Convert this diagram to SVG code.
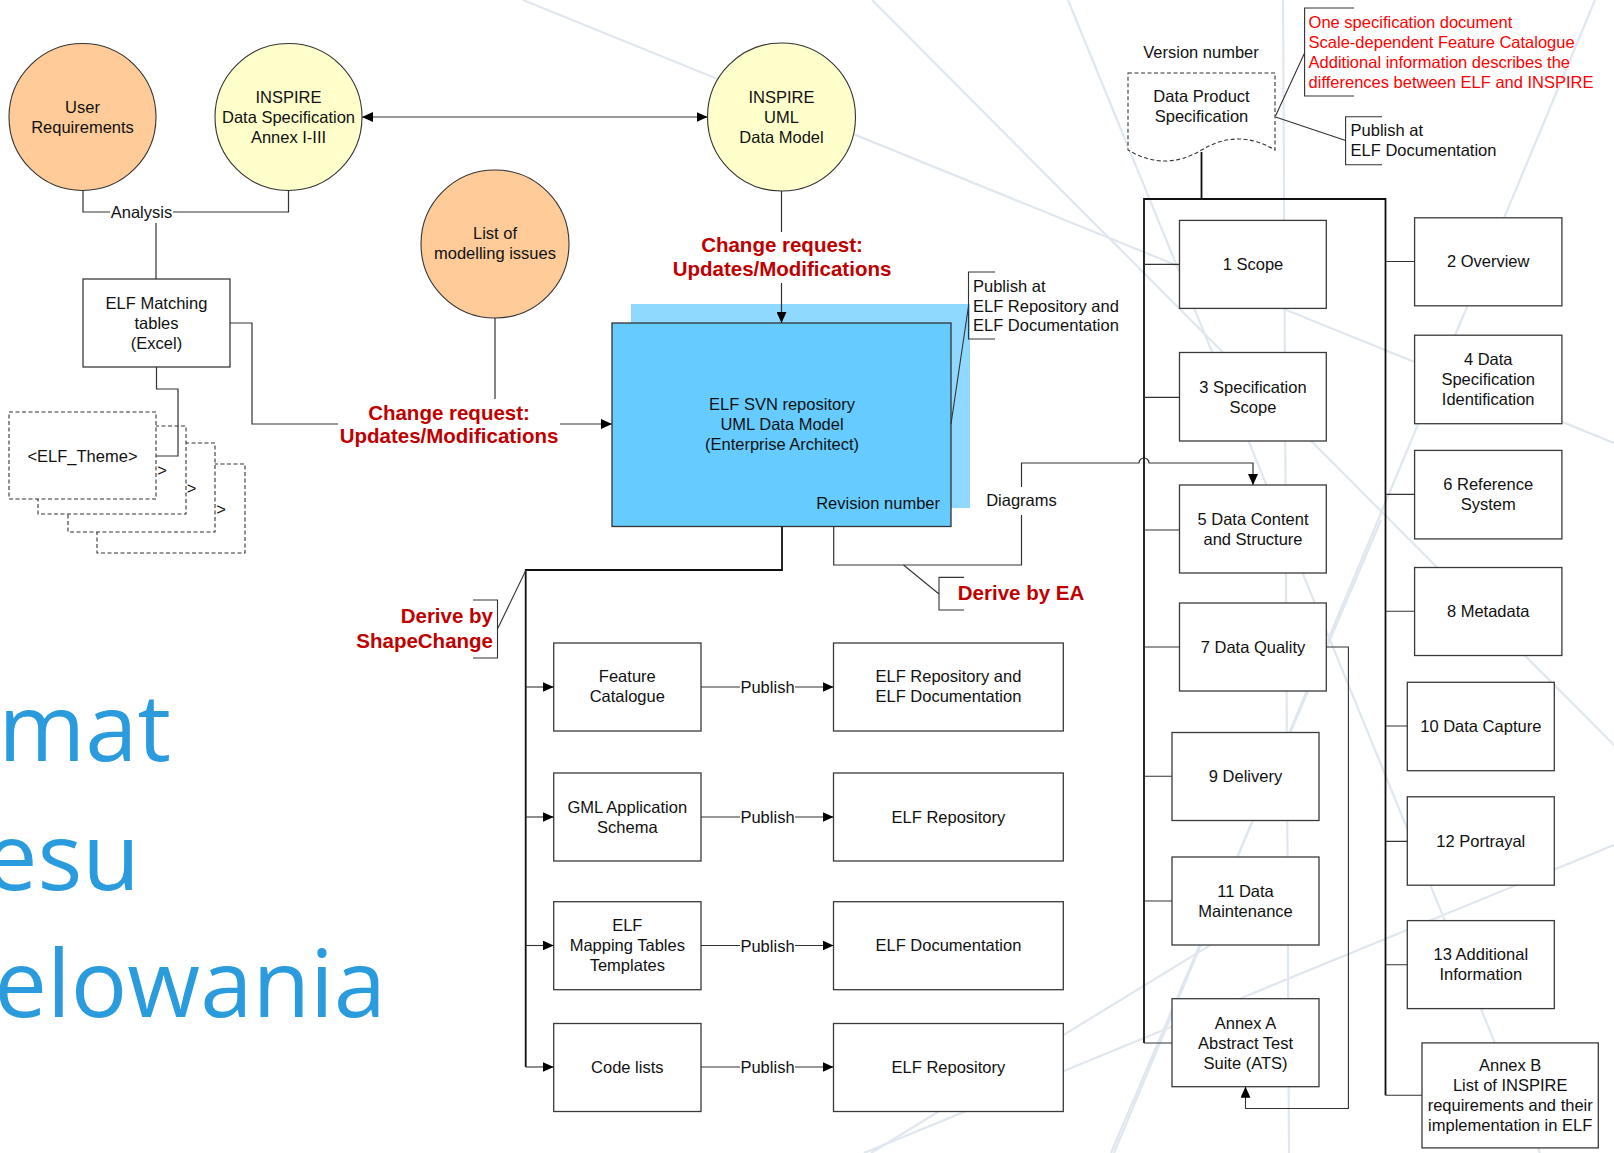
<svg xmlns="http://www.w3.org/2000/svg" width="1614" height="1153" viewBox="0 0 1614 1153">
<defs>
<style>
.t{font-family:"Liberation Sans",Arial,sans-serif;font-size:16.5px;fill:#111;text-anchor:middle}
.red{font-family:"Liberation Sans",Arial,sans-serif;font-weight:bold;font-size:20.5px;fill:#C00000;text-anchor:middle}
.l{text-anchor:start}
.e{text-anchor:end}
.note{font-family:"Liberation Sans",Arial,sans-serif;font-size:16.5px;fill:#FF0000}
.box{fill:#fff;stroke:#3a3a3a;stroke-width:1.3}
.dash{fill:#fff;stroke:#333;stroke-width:1.1;stroke-dasharray:4 2.5}
.c{fill:none;stroke:#333;stroke-width:1.2}
.trunk{fill:none;stroke:#111;stroke-width:1.8}
.br{fill:none;stroke:#333;stroke-width:1.1}
.big{font-family:"Open Sans",sans-serif;font-size:94px;fill:#2A9BDC;text-anchor:end}
</style>
<marker id="arr" viewBox="0 0 11 10" refX="11" refY="5" markerWidth="11" markerHeight="10" markerUnits="userSpaceOnUse" orient="auto-start-reverse"><path d="M0,0 L11,5 L0,10 z" fill="#000"/></marker>
</defs>
<rect width="1614" height="1153" fill="#fff"/>
<g id="background" stroke="#E0E7EE" stroke-width="2.2" fill="none">
<line x1="523" y1="0" x2="1614" y2="443"/>
<line x1="872" y1="0" x2="1614" y2="745"/>
<line x1="1595" y1="0" x2="1114" y2="1153"/>
<line x1="1068" y1="0" x2="1540" y2="1153"/>
<line x1="1283" y1="0" x2="1289" y2="1153"/>
<line x1="1614" y1="845" x2="864" y2="1153"/>
<line x1="1111" y1="1153" x2="1381" y2="520"/>
<line x1="871" y1="1153" x2="1300" y2="890"/>
</g>
<g id="slide-text">
<text class="big" x="171" y="761">mat</text>
<text class="big" x="140" y="890">esu</text>
<text class="big" x="386" y="1017">elowania</text>
</g>

<g id="n-userreq"><circle cx="82.5" cy="117" r="73.5" fill="#FFCC99" stroke="#333" stroke-width="1.1"/>
<text class="t" x="82.5" y="113">User</text><text class="t" x="82.5" y="133">Requirements</text></g>
<g id="n-inspire-ds"><circle cx="288.5" cy="117" r="73.5" fill="#FFFFCC" stroke="#333" stroke-width="1.1"/>
<text class="t" x="288.5" y="103">INSPIRE</text><text class="t" x="288.5" y="123">Data Specification</text><text class="t" x="288.5" y="143">Annex I-III</text></g>
<g id="n-inspire-uml"><circle cx="781.5" cy="117" r="74" fill="#FFFFCC" stroke="#333" stroke-width="1.1"/>
<text class="t" x="781.5" y="103">INSPIRE</text><text class="t" x="781.5" y="123">UML</text><text class="t" x="781.5" y="143">Data Model</text></g>
<g id="n-issues"><circle cx="495" cy="244" r="74" fill="#FFCC99" stroke="#333" stroke-width="1.1"/>
<text class="t" x="495" y="239">List of</text><text class="t" x="495" y="259">modelling issues</text></g>
<g id="n-matching"><rect class="box" x="83" y="279" width="147" height="88"/>
<text class="t" x="156.5" y="309">ELF Matching</text><text class="t" x="156.5" y="329">tables</text><text class="t" x="156.5" y="349">(Excel)</text></g>
<g id="n-themes">
<rect class="dash" x="97" y="464" width="148" height="89"/>
<text class="t e" x="226" y="514.5">&gt;</text>
<rect class="dash" x="68" y="443" width="147" height="89"/>
<text class="t e" x="196.5" y="493.5">&gt;</text>
<rect class="dash" x="38" y="426" width="148" height="88"/>
<text class="t e" x="167" y="476">&gt;</text>
<rect class="dash" x="9" y="412" width="147" height="87"/>
<text class="t" x="82.5" y="462">&lt;ELF_Theme&gt;</text>
</g>
<g id="n-svn">
<rect x="631" y="304" width="339" height="204" fill="#8FD8FF"/>
<rect x="612" y="323" width="339" height="203.5" fill="#66CCFF" stroke="#333" stroke-width="1.3"/>
<text class="t" x="782" y="410">ELF SVN repository</text><text class="t" x="782" y="430">UML Data Model</text><text class="t" x="782" y="450">(Enterprise Architect)</text>
<text class="t e" x="940" y="509">Revision number</text>
</g>
<g id="n-fc"><rect class="box" x="553.7" y="643" width="147.3" height="88"/><text class="t" x="627.3" y="682">Feature</text><text class="t" x="627.3" y="702">Catalogue</text></g>
<g id="n-gml"><rect class="box" x="553.7" y="773" width="147.3" height="88"/><text class="t" x="627.3" y="812.5">GML Application</text><text class="t" x="627.3" y="832.5">Schema</text></g>
<g id="n-map"><rect class="box" x="553.7" y="901.7" width="147.3" height="88"/><text class="t" x="627.3" y="931">ELF</text><text class="t" x="627.3" y="951">Mapping Tables</text><text class="t" x="627.3" y="971">Templates</text></g>
<g id="n-code"><rect class="box" x="553.7" y="1023.5" width="147.3" height="88"/><text class="t" x="627.3" y="1073">Code lists</text></g>
<g id="n-pub1"><rect class="box" x="833.5" y="643" width="229.8" height="88"/><text class="t" x="948.4" y="682">ELF Repository and</text><text class="t" x="948.4" y="702">ELF Documentation</text></g>
<g id="n-pub2"><rect class="box" x="833.5" y="773" width="229.8" height="88"/><text class="t" x="948.4" y="823">ELF Repository</text></g>
<g id="n-pub3"><rect class="box" x="833.5" y="901.7" width="229.8" height="88"/><text class="t" x="948.4" y="951">ELF Documentation</text></g>
<g id="n-pub4"><rect class="box" x="833.5" y="1023.5" width="229.8" height="88"/><text class="t" x="948.4" y="1073">ELF Repository</text></g>

<g id="n-dps">
<path d="M1128,73 H1275 V150 Q1238,128 1201.5,150 Q1165,172 1128,150 Z" fill="#fff" stroke="#333" stroke-width="1.1" stroke-dasharray="4 2.5"/>
<text class="t" x="1201.5" y="101.6">Data Product</text><text class="t" x="1201.5" y="121.6">Specification</text>
<text class="t" x="1201" y="58">Version number</text>
</g>
<g id="n-s1"><rect class="box" x="1179.5" y="220.4" width="146.8" height="88"/><text class="t" x="1253" y="270">1 Scope</text></g>
<g id="n-s3"><rect class="box" x="1179.5" y="352.5" width="146.8" height="88.5"/><text class="t" x="1253" y="393">3 Specification</text><text class="t" x="1253" y="413">Scope</text></g>
<g id="n-s5"><rect class="box" x="1179.5" y="485" width="146.8" height="88"/><text class="t" x="1253" y="525">5 Data Content</text><text class="t" x="1253" y="545">and Structure</text></g>
<g id="n-s7"><rect class="box" x="1179.5" y="603" width="146.8" height="88"/><text class="t" x="1253" y="652.5">7 Data Quality</text></g>
<g id="n-s9"><rect class="box" x="1172" y="732.5" width="147" height="88"/><text class="t" x="1245.5" y="781.5">9 Delivery</text></g>
<g id="n-s11"><rect class="box" x="1172" y="857" width="147" height="88"/><text class="t" x="1245.5" y="897">11 Data</text><text class="t" x="1245.5" y="917">Maintenance</text></g>
<g id="n-sA"><rect class="box" x="1172" y="998.7" width="147" height="88"/><text class="t" x="1245.5" y="1028.5">Annex A</text><text class="t" x="1245.5" y="1048.5">Abstract Test</text><text class="t" x="1245.5" y="1068.5">Suite (ATS)</text></g>
<g id="n-s2"><rect class="box" x="1414.6" y="217.8" width="147.3" height="88"/><text class="t" x="1488.2" y="267">2 Overview</text></g>
<g id="n-s4"><rect class="box" x="1414.6" y="335.2" width="147.3" height="88.5"/><text class="t" x="1488.2" y="364.5">4 Data</text><text class="t" x="1488.2" y="384.5">Specification</text><text class="t" x="1488.2" y="404.5">Identification</text></g>
<g id="n-s6"><rect class="box" x="1414.6" y="450.4" width="147.3" height="88.5"/><text class="t" x="1488.2" y="490">6 Reference</text><text class="t" x="1488.2" y="510">System</text></g>
<g id="n-s8"><rect class="box" x="1414.6" y="567.5" width="147.3" height="88"/><text class="t" x="1488.2" y="617">8 Metadata</text></g>
<g id="n-s10"><rect class="box" x="1407.3" y="682.3" width="147" height="88.4"/><text class="t" x="1480.8" y="731.5">10 Data Capture</text></g>
<g id="n-s12"><rect class="box" x="1407.3" y="796.8" width="147" height="88.4"/><text class="t" x="1480.8" y="846.5">12 Portrayal</text></g>
<g id="n-s13"><rect class="box" x="1407.3" y="920.6" width="147" height="88"/><text class="t" x="1480.8" y="960">13 Additional</text><text class="t" x="1480.8" y="980">Information</text></g>
<g id="n-sB"><rect class="box" x="1422" y="1042.9" width="176.3" height="105"/><text class="t" x="1510.2" y="1071">Annex B</text><text class="t" x="1510.2" y="1091">List of INSPIRE</text><text class="t" x="1510.2" y="1111">requirements and their</text><text class="t" x="1510.2" y="1131">implementation in ELF</text></g>

<g id="connectors">
<path class="c" d="M83,190.5 V212 H110 M173,212 H288.5 V190.5"/>
<text class="t" x="141.5" y="218">Analysis</text>
<path class="c" d="M156,223 V279"/>
<path class="c" d="M156.5,367 V389 H178 V456 H156"/>
<path class="c" d="M230,323 H252 V424 H338"/>
<path class="c" d="M495,318 V399"/>
<path class="c" d="M560,424 H612" marker-end="url(#arr)"/>
<text class="red" x="449" y="419.5">Change request:</text>
<text class="red" x="449" y="443">Updates/Modifications</text>
<path class="c" d="M362,117 H707.5" marker-start="url(#arr)" marker-end="url(#arr)"/>
<path class="c" d="M781.5,191 V232 M781.5,283 V323" marker-end="url(#arr)"/>
<text class="red" x="782" y="251.5">Change request:</text>
<text class="red" x="782" y="275.5">Updates/Modifications</text>
<path class="trunk" d="M782,526.5 V570 H525.7 V1067"/>
<path class="br" d="M525.7,687 H553.7" marker-end="url(#arr)"/>
<path class="br" d="M525.7,817 H553.7" marker-end="url(#arr)"/>
<path class="br" d="M525.7,945.5 H553.7" marker-end="url(#arr)"/>
<path class="br" d="M525.7,1067 H553.7" marker-end="url(#arr)"/>
<path class="br" d="M701,687 H740 M795,687 H833.5" marker-end="url(#arr)"/>
<path class="br" d="M701,817 H740 M795,817 H833.5" marker-end="url(#arr)"/>
<path class="br" d="M701,945.5 H740 M795,945.5 H833.5" marker-end="url(#arr)"/>
<path class="br" d="M701,1067 H740 M795,1067 H833.5" marker-end="url(#arr)"/>
<text class="t" x="767.5" y="693">Publish</text>
<text class="t" x="767.5" y="823">Publish</text>
<text class="t" x="767.5" y="951.5">Publish</text>
<text class="t" x="767.5" y="1073">Publish</text>
<path class="c" d="M833.7,526.5 V565 H1021.5 V515 M1021.5,487 V463 H1139 A5,5 0 0 1 1149,463 H1253 V485" marker-end="url(#arr)"/>
<text class="t" x="1021.5" y="506">Diagrams</text>
<path class="trunk" d="M1201.5,152 V199 M1144,1043 V199 H1385.5 V1095.3"/>
<path class="br" d="M1144,264.4 H1179.5 M1144,397.4 H1179.5 M1144,530 H1179.5 M1144,647 H1179.5 M1144,776.3 H1172 M1144,901 H1172 M1144,1043 H1172"/>
<path class="br" d="M1385.5,261.5 H1414.6 M1385.5,494.4 H1414.6 M1385.5,611.3 H1414.6 M1385.5,726 H1407.3 M1385.5,841.4 H1407.3 M1385.5,964.8 H1407.3 M1385.5,1095.3 H1422"/>
<path class="br" d="M1326.3,647 H1348.4 V1108.5 H1245.5 V1086.7" marker-end="url(#arr)"/>
</g>

<g id="callouts">
<path class="br" d="M995,272 H968.5 V339 H995 M968.5,306 L951,424"/>
<text class="t l" x="973" y="292">Publish at</text>
<text class="t l" x="973" y="311.5">ELF Repository and</text>
<text class="t l" x="973" y="331">ELF Documentation</text>
<path class="br" d="M1354,8 H1304.6 V96 H1354 M1304.6,53 L1275.5,116"/>
<text class="note" x="1308.6" y="27.5">One specification document</text>
<text class="note" x="1308.6" y="47.5">Scale-dependent Feature Catalogue</text>
<text class="note" x="1308.6" y="67.5">Additional information describes the</text>
<text class="note" x="1308.6" y="87.5">differences between ELF and INSPIRE</text>
<path class="br" d="M1382,116.7 H1345.6 V164.8 H1382 M1345.6,140.5 L1275.5,117"/>
<text class="t l" x="1350.6" y="136.4">Publish at</text>
<text class="t l" x="1350.6" y="156.4">ELF Documentation</text>
<path class="br" d="M964,577.4 H939 V610 H964 M939,594 L903.5,565"/>
<text class="red" x="1021" y="600">Derive by EA</text>
<path class="br" d="M473,600 H497.5 V658 H473 M497.5,629 L526,570"/>
<text class="red" x="493" y="623" style="text-anchor:end">Derive by</text>
<text class="red" x="493" y="647.5" style="text-anchor:end">ShapeChange</text>
</g>
</svg>
